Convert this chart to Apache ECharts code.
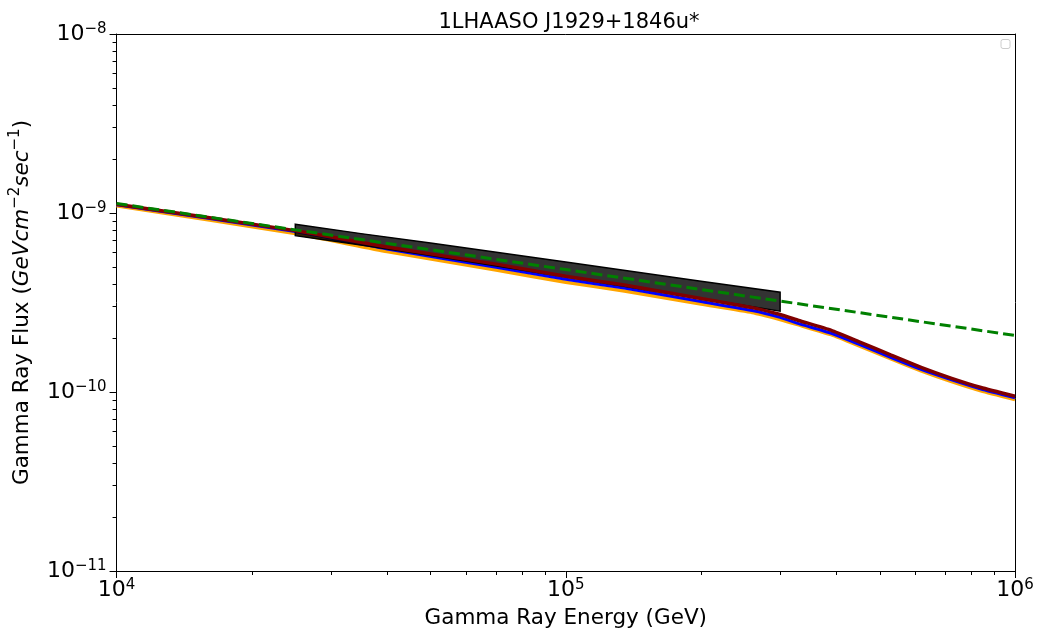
<!DOCTYPE html>
<html>
<head>
<meta charset="utf-8">
<script src="https://cdn.jsdelivr.net/npm/echarts@6/dist/echarts.min.js"></script>
<style>
html,body{margin:0;padding:0;background:#fff;}
#chart{width:1040px;height:634px;}
</style>
</head>
<body>
<div id="chart"></div>
<script>
// ---- data ----
const titleText = '1LHAASO J1929+1846u*';
const energies = [1e4, 2.5e4, 4e4, 7e4, 1e5, 1.35e5, 2e5, 2.6e5, 3e5, 3.3e5, 3.9e5, 4.5e5, 5.3e5, 6.2e5, 7.2e5, 8.4e5, 1e6];
const fluxRed = [1.12e-9, 7.97e-10, 6.45e-10, 5.18e-10, 4.43e-10, 3.96e-10, 3.33e-10, 2.96e-10, 2.71e-10, 2.51e-10, 2.21e-10, 1.907e-10, 1.608e-10, 1.368e-10, 1.196e-10, 1.059e-10, 9.46e-11];
const fluxBlue = [1.113e-9, 7.87e-10, 6.29e-10, 4.98e-10, 4.26e-10, 3.81e-10, 3.20e-10, 2.85e-10, 2.61e-10, 2.41e-10, 2.13e-10, 1.847e-10, 1.557e-10, 1.333e-10, 1.173e-10, 1.039e-10, 9.28e-11];
const fluxOrange = [1.099e-9, 7.67e-10, 6.09e-10, 4.80e-10, 4.10e-10, 3.67e-10, 3.10e-10, 2.78e-10, 2.54e-10, 2.37e-10, 2.09e-10, 1.81e-10, 1.53e-10, 1.31e-10, 1.146e-10, 1.015e-10, 9.07e-11];
const greenE = [1e4, 2.5e4, 1e5, 3e5, 1e6];
const greenF = [1.13e-9, 8.05e-10, 4.83e-10, 3.22e-10, 2.07e-10];
const bandE = [2.5e4, 3.5e4, 5e4, 1e5, 2e5, 3e5];
const bandUpper = [8.66e-10, 7.67e-10, 6.79e-10, 5.32e-10, 4.16e-10, 3.61e-10];
const bandLower = [7.47e-10, 6.62e-10, 5.78e-10, 4.39e-10, 3.33e-10, 2.83e-10];
const xMinorTicks = [2e4,3e4,4e4,5e4,6e4,7e4,8e4,9e4,2e5,3e5,4e5,5e5,6e5,7e5,8e5,9e5];
const yMinorTicks = [2e-11,3e-11,4e-11,5e-11,6e-11,7e-11,8e-11,9e-11,2e-10,3e-10,4e-10,5e-10,6e-10,7e-10,8e-10,9e-10,2e-9,3e-9,4e-9,5e-9,6e-9,7e-9,8e-9,9e-9];
const xName = 'Gamma Ray Energy (GeV)';
const yName = 'Gamma Ray Flux ({i|GeVcm}{sup|−2}{i|sec}{sup|−1})';

const zip = (a, b) => a.map((v, i) => [v, b[i]]);
const FONT = 'DejaVu Sans';
const powLabel = v => {
  const e = Math.round(Math.log10(v));
  return '{b|10}{s|' + (e < 0 ? '−' + (-e) : e) + '}';
};
const powRich = {
  b: {fontSize: 22, lineHeight: 24, color: '#000', fontFamily: FONT},
  s: {fontSize: 15, lineHeight: 8, verticalAlign: 'top', color: '#000', fontFamily: FONT}
};

const chart = echarts.init(document.getElementById('chart'), null, {renderer: 'canvas'});
const option = {
  animation: false,
  backgroundColor: '#fff',
  title: {
    text: titleText, left: 564, textAlign: 'center', top: 7,
    textStyle: {fontFamily: FONT, fontSize: 21, fontWeight: 'normal', color: '#000'}
  },
  grid: {left: 114, right: 25, top: 34, bottom: 62, containLabel: false},
  xAxis: [
    {
      type: 'log', logBase: 10, min: 1e4, max: 1e6, position: 'bottom',
      name: xName, nameLocation: 'middle', nameGap: 36,
      nameTextStyle: {fontFamily: FONT, fontSize: 21.5, color: '#000'},
      axisLine: {show: true, lineStyle: {color: '#000', width: 1}},
      axisTick: {show: true, inside: false, length: 7, lineStyle: {color: '#000'}},
      axisLabel: {margin: 7, formatter: powLabel, rich: powRich},
      splitLine: {show: false}, minorTick: {show: false}
    },
    {
      type: 'log', logBase: 10, min: 1e4, max: 1e6, position: 'bottom',
      axisLine: {show: false},
      axisTick: {show: true, length: 4, customValues: xMinorTicks, lineStyle: {color: '#000'}},
      axisLabel: {show: false}, splitLine: {show: false}
    },
    {
      type: 'log', logBase: 10, min: 1e4, max: 1e6, position: 'top',
      axisLine: {show: true, lineStyle: {color: '#000', width: 1}},
      axisTick: {show: false}, axisLabel: {show: false}, splitLine: {show: false}
    }
  ],
  yAxis: [
    {
      type: 'log', logBase: 10, min: 1e-11, max: 1e-8, position: 'left',
      name: yName, nameLocation: 'middle', nameGap: 79, nameRotate: 90,
      nameTextStyle: {
        fontFamily: FONT, fontSize: 21.5, color: '#000', lineHeight: 28,
        rich: {
          i: {fontFamily: FONT, fontSize: 21.5, fontStyle: 'italic', color: '#000', lineHeight: 28},
          sup: {fontFamily: FONT, fontSize: 15, color: '#000', lineHeight: 11, verticalAlign: 'top'}
        }
      },
      axisLine: {show: true, lineStyle: {color: '#000', width: 1}},
      axisTick: {show: true, inside: false, length: 7, lineStyle: {color: '#000'}},
      axisLabel: {margin: 10, formatter: powLabel, rich: powRich},
      splitLine: {show: false}
    },
    {
      type: 'log', logBase: 10, min: 1e-11, max: 1e-8, position: 'left',
      axisLine: {show: false},
      axisTick: {show: true, length: 4, customValues: yMinorTicks, lineStyle: {color: '#000'}},
      axisLabel: {show: false}, splitLine: {show: false}
    },
    {
      type: 'log', logBase: 10, min: 1e-11, max: 1e-8, position: 'right',
      axisLine: {show: true, lineStyle: {color: '#000', width: 1}},
      axisTick: {show: false}, axisLabel: {show: false}, splitLine: {show: false}
    }
  ],
  graphic: [{
    type: 'rect', shape: {x: 1001, y: 39.5, width: 9, height: 9, r: 2},
    style: {fill: '#fff', stroke: '#cccccc', lineWidth: 1}
  }],
  series: [
    {
      type: 'line', name: 'orange', xAxisIndex: 0, yAxisIndex: 0, z: 2,
      data: zip(energies, fluxOrange), showSymbol: false, smooth: 0.15,
      lineStyle: {color: '#ffa500', width: 3.5}
    },
    {
      type: 'line', name: 'blue', xAxisIndex: 0, yAxisIndex: 0, z: 3,
      data: zip(energies, fluxBlue), showSymbol: false, smooth: 0.15,
      lineStyle: {color: '#0000ff', width: 3}
    },
    {
      type: 'custom', name: 'band', xAxisIndex: 0, yAxisIndex: 0, z: 4,
      data: [[bandE[0], bandUpper[0]]],
      renderItem: function (params, api) {
        const pts = [];
        for (let i = 0; i < bandE.length; i++) pts.push(api.coord([bandE[i], bandUpper[i]]));
        for (let i = bandE.length - 1; i >= 0; i--) pts.push(api.coord([bandE[i], bandLower[i]]));
        return {
          type: 'polygon', shape: {points: pts},
          style: {fill: 'rgba(0,0,0,0.8)', stroke: '#000', lineWidth: 1.5}
        };
      }
    },
    {
      type: 'line', name: 'red', xAxisIndex: 0, yAxisIndex: 0, z: 5,
      data: zip(energies, fluxRed), showSymbol: false, smooth: 0.15,
      lineStyle: {color: '#800000', width: 3.5}
    },
    {
      type: 'line', name: 'green', xAxisIndex: 0, yAxisIndex: 0, z: 6,
      data: zip(greenE, greenF), showSymbol: false,
      lineStyle: {color: '#008000', width: 3, type: [11, 5]}
    }
  ]
};
chart.setOption(option);
</script>
</body>
</html>
